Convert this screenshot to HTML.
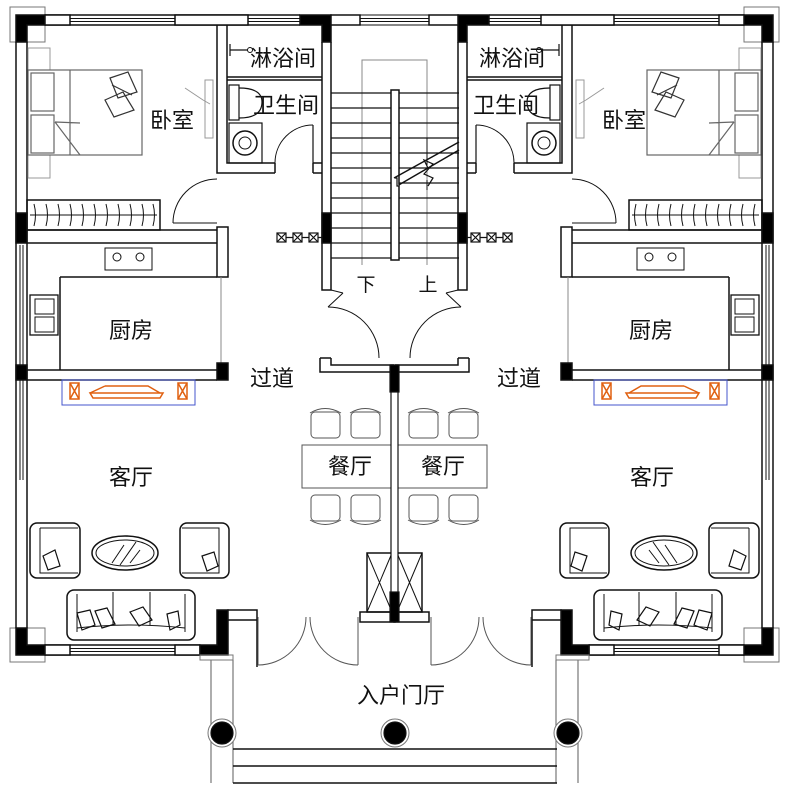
<!DOCTYPE html>
<html><head><meta charset="utf-8"><style>
html,body{margin:0;padding:0;background:#fff;}
svg{display:block;}
text{font-family:"Liberation Sans","Noto Sans CJK SC",sans-serif;font-size:22px;fill:#111;text-anchor:middle;}
</style></head><body>
<svg width="789" height="795" viewBox="0 0 789 795" xmlns="http://www.w3.org/2000/svg">
<defs>
<g id="L" fill="none" stroke="#111" stroke-width="1.5">
  <rect x="10" y="7" width="35" height="35" stroke="#777" stroke-width="1"/>
  <path d="M16 15H45V25H27V42H16Z" fill="#000"/>
  <rect x="10" y="628" width="35" height="34" stroke="#777" stroke-width="1"/>
  <path d="M16 628H27V645H45V655H16Z" fill="#000"/>
  <path d="M45 15H300M45 25H300"/>
  <rect x="45" y="15" width="25" height="10" fill="#fff"/>
  <rect x="175" y="15" width="73" height="10" fill="#fff"/>
  <path d="M70 18.5H175M70 21.5H175M248 18.5H300M248 21.5H300" stroke-width="1"/>
  <path d="M300 15H331V42H322V25H300Z" fill="#000"/>
  <rect x="331" y="15" width="29" height="10" fill="#fff"/>
  <path d="M360 15H395M360 25H395M360 18.5H395M360 21.5H395" stroke-width="1"/>
  <path d="M16 42V628M27 42V628"/>
  <path d="M20 245V365M23 245V365M20 380V480M23 380V480" stroke-width="1"/>
  <rect x="16" y="213" width="11" height="30" fill="#000"/>
  <rect x="16" y="365" width="11" height="15" fill="#000"/>
  <path d="M45 645H200M45 655H200"/>
  <rect x="45" y="645" width="25" height="10" fill="#fff"/>
  <rect x="175" y="645" width="25" height="10" fill="#fff"/>
  <path d="M70 648.5H175M70 651.5H175" stroke-width="1"/>
  <path d="M200 645H217V610H228V655H200Z" fill="#000"/>
  <rect x="228" y="610" width="29" height="10" fill="#fff"/>
  <path d="M257 620V667"/>
  <rect x="200" y="655" width="33" height="5" stroke="#777" stroke-width="1"/>
  <path d="M211 660V783M233 660V783" stroke="#777" stroke-width="1.2"/>
  <path d="M217 25V173H275M227 25V163H275"/>
  <path d="M313 163H322M313 173H322M313 163V173" />
  <path d="M275 163V173" />
  <path d="M313 125V163" stroke-width="1.2"/>
  <path d="M275 163A38 38 0 0 1 313 125" stroke-width="1"/>
  <path d="M227 77H322M227 80H322"/>
  <path d="M230 44V56M230 50H248" stroke-width="1.2"/>
  <circle cx="250" cy="50" r="2.5" stroke-width="1"/>
  <rect x="229" y="85" width="10" height="35" stroke-width="1.2"/>
  <path d="M239 88Q262 88 262 102Q262 118 239 118" stroke-width="1.2"/>
  <rect x="229" y="123" width="33" height="40" stroke-width="1.2"/>
  <circle cx="245" cy="143" r="12" stroke-width="1.5"/>
  <circle cx="245" cy="143" r="6" stroke-width="1"/>
  <path d="M322 42V290H331V42"/>
  <rect x="322" y="213" width="9" height="30" fill="#000"/>
  <path d="M331 290L343 293M328 307L343 293" stroke-width="1"/>
  <path d="M328 307A51 51 0 0 1 379 358" stroke-width="1"/>
  <path d="M320 358V372H394M331 358V365H394M320 358H331"/>
  <g stroke-width="1.2">
    <rect x="277" y="233" width="9" height="9"/><path d="M277 233L286 242M286 233L277 242"/>
    <rect x="293" y="233" width="9" height="9"/><path d="M293 233L302 242M302 233L293 242"/>
    <rect x="309" y="233" width="9" height="9"/><path d="M309 233L318 242M318 233L309 242"/>
    <path d="M286 237.5H293M302 237.5H309M318 237.5H322"/>
  </g>
  <g stroke="#999" stroke-width="1">
    <rect x="28" y="48" width="22" height="22"/>
    <rect x="28" y="155" width="22" height="23"/>
  </g>
  <g stroke="#666" stroke-width="1.2">
    <rect x="28" y="70" width="114" height="85"/>
    <rect x="31" y="73" width="23" height="38"/>
    <rect x="31" y="115" width="23" height="38"/>
    <path d="M70 70V155M55 122L80 155M55 122L80 123"/>
  </g>
  <g stroke="#333" stroke-width="1.2">
    <path d="M110 78L128 72L137 92L118 98Z"/>
    <path d="M105 100L123 92L134 110L114 117Z"/>
    <path d="M112 85L132 95"/>
  </g>
  <rect x="205" y="80" width="8" height="58" stroke="#999" stroke-width="1"/>
  <path d="M185 88L203 100M203 100L210 104" stroke="#999" stroke-width="1"/>
  <rect x="27" y="200" width="133" height="30" stroke-width="1.5"/>
  <path d="M30 215H157" stroke-width="1"/>
  <path d="M34 204Q37 215 34 226M46 204Q49 215 46 226M58 204Q61 215 58 226M70 204Q73 215 70 226M82 204Q85 215 82 226M94 204Q97 215 94 226M106 204Q109 215 106 226M118 204Q121 215 118 226M130 204Q133 215 130 226M142 204Q145 215 142 226M153 204Q156 215 153 226" stroke-width="1"/>
  <path d="M173 223H217" stroke-width="1"/>
  <path d="M173 223A44 44 0 0 1 217 179" stroke-width="1"/>
  <path d="M27 230H217M27 243H217"/>
  <rect x="217" y="227" width="11" height="50"/>
  <path d="M60 277H217M60 277V370"/>
  <path d="M221 277V370" stroke="#888" stroke-width="1"/>
  <rect x="105" y="248" width="47" height="22" stroke-width="1"/>
  <circle cx="117" cy="257" r="4" stroke-width="1"/>
  <circle cx="140" cy="257" r="4" stroke-width="1"/>
  <rect x="30" y="295" width="28" height="40" stroke-width="1.3"/>
  <rect x="35" y="299" width="19" height="15" stroke-width="1"/>
  <rect x="35" y="317" width="19" height="15" stroke-width="1"/>
  <path d="M27 370H217M27 380H217"/>
  <rect x="217" y="363" width="11" height="17" fill="#000"/>
  <rect x="62" y="380" width="133" height="25" stroke="#4455cc" stroke-width="1"/>
  <g stroke="#e06010" stroke-width="1.5">
    <rect x="70" y="383" width="9" height="16"/><path d="M70 383L79 399M79 383L70 399"/>
    <rect x="178" y="383" width="9" height="16"/><path d="M178 383L187 399M187 383L178 399"/>
    <path d="M90 393H163L160 398H93Z"/>
    <path d="M105 386H148L160 393"/><path d="M105 386L90 393"/>
  </g>
  <g stroke-width="1.5">
    <rect x="30" y="523" width="50" height="55" rx="7"/>
    <path d="M40 528H78M40 528V573H78" stroke-width="1"/>
    <path d="M43 556L55 550L60 566L48 570Z" stroke-width="1.2"/>
    <ellipse cx="125" cy="553" rx="33" ry="17"/>
    <ellipse cx="125" cy="553" rx="29" ry="13" stroke-width="1"/>
    <path d="M112 563L124 545M120 565L136 542M130 563L140 550" stroke-width="1"/>
    <rect x="180" y="523" width="49" height="55" rx="7"/>
    <path d="M182 528H219V573H182" stroke-width="1"/>
    <path d="M202 556L214 552L218 566L207 571Z" stroke-width="1.2"/>
    <rect x="67" y="590" width="128" height="50" rx="7"/>
    <path d="M77 594V632M113 592V625M150 592V625M185 594V632M77 628Q130 622 185 628" stroke-width="1"/>
    <path d="M77 613L90 610L95 625L82 630Z M95 611L107 608L115 624L102 628Z M130 612L143 607L152 620L139 626Z M167 614L178 611L180 625L170 630Z" stroke-width="1.2"/>
  </g>
  <g stroke="#555" stroke-width="1">
    <rect x="311" y="412" width="29" height="26" rx="4"/><path d="M310 413Q325 404 341 413"/>
    <rect x="351" y="412" width="29" height="26" rx="4"/><path d="M350 413Q365 404 381 413"/>
    <rect x="311" y="495" width="29" height="26" rx="4"/><path d="M310 520Q325 529 341 520"/>
    <rect x="351" y="495" width="29" height="26" rx="4"/><path d="M350 520Q365 529 381 520"/>
    <rect x="302" y="445" width="89" height="43"/>
  </g>
  <path d="M258 617V665M358 617V665" stroke="#555" stroke-width="1"/>
  <path d="M258 665A48 48 0 0 0 306 617M358 665A48 48 0 0 1 310 617" stroke="#555" stroke-width="1"/>
  <rect x="360" y="612" width="35" height="10" fill="#fff"/>
  <rect x="367" y="553" width="25" height="59"/>
  <path d="M367 553L392 612M392 553L367 612" stroke-width="1"/>
</g>
</defs>

<use href="#L"/>
<use href="#L" transform="matrix(-1 0 0 1 789 0)"/>

<g fill="none" stroke="#111" stroke-width="1.2">
  <path d="M362 265V60H427V265" stroke="#888" stroke-width="1"/>
  <path d="M331 93H459M331 108H459M331 123H459M331 138H459M331 153H459M331 168H459M331 183H459M331 198H459M331 213H459M331 228H459M331 243H459M331 258H459"/>
  <rect x="391" y="90" width="8" height="170" fill="#fff" stroke-width="1.5"/>
  <path d="M394 178L459 142M397 186L459 150" stroke-width="1.5"/>
  <path d="M395 178H397V186H399" fill="#fff"/>
  <path d="M428 168L424 160L433 164L424 174L433 178L428 186" stroke-width="1.2"/>
  <path d="M427 138V165M427 180V190" stroke-width="1"/>
  <rect x="391" y="365" width="7" height="255" fill="#fff"/>
  <rect x="390" y="365" width="9" height="27" fill="#000"/>
  <rect x="390" y="592" width="9" height="30" fill="#000"/>
  <path d="M233 749H557M233 766H557M233 783H557" stroke-width="1.5"/>
  <circle cx="222" cy="733" r="14" stroke="#777" stroke-width="1" fill="#fff"/>
  <circle cx="222" cy="733" r="11" fill="#000"/>
  <circle cx="395" cy="733" r="14" stroke="#777" stroke-width="1" fill="#fff"/>
  <circle cx="395" cy="733" r="11" fill="#000"/>
  <circle cx="568" cy="733" r="14" stroke="#777" stroke-width="1" fill="#fff"/>
  <circle cx="568" cy="733" r="11" fill="#000"/>
</g>

<g>
  <text x="283" y="66">淋浴间</text>
  <text x="512" y="66">淋浴间</text>
  <text x="286" y="113">卫生间</text>
  <text x="506" y="113">卫生间</text>
  <text x="172" y="128">卧室</text>
  <text x="624" y="128">卧室</text>
  <text x="366" y="291" style="font-size:19px">下</text>
  <text x="428" y="291" style="font-size:19px">上</text>
  <text x="131" y="338">厨房</text>
  <text x="651" y="338">厨房</text>
  <text x="272" y="386">过道</text>
  <text x="519" y="386">过道</text>
  <text x="350" y="474">餐厅</text>
  <text x="443" y="474">餐厅</text>
  <text x="131" y="485">客厅</text>
  <text x="652" y="485">客厅</text>
  <text x="401" y="703">入户门厅</text>
</g>
</svg>
</body></html>
